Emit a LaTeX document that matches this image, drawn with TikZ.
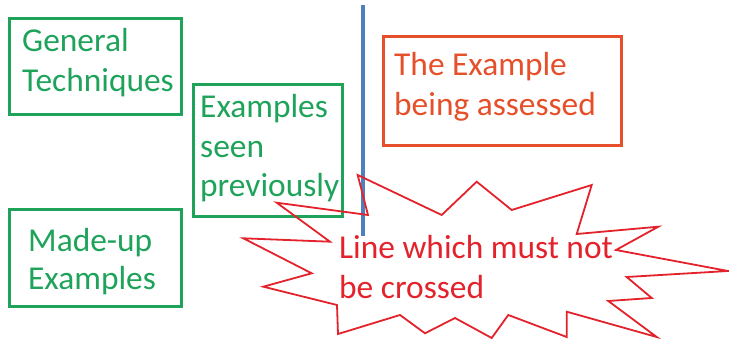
\documentclass[tikz,border=0pt]{standalone}
\usepackage{fontspec}
\setmainfont{Carlito}
\definecolor{cgreen}{HTML}{1FA35B}
\definecolor{cblue}{HTML}{4F7FBC}
\definecolor{corange}{HTML}{E5502A}
\definecolor{cred}{HTML}{E3222B}
\begin{document}
\begin{tikzpicture}[x=1pt,y=-1pt,
  box/.style={draw, line width=3pt, rectangle, inner sep=0pt, anchor=north west},
  lbl/.style={anchor=base west, inner sep=0pt, font=\fontsize{33.4}{40}\selectfont}]
\useasboundingbox (0,0) rectangle (729,344);
% boxes
\node[box, cgreen, minimum width=172pt, minimum height=96pt] (gt) at (8,17) {};
\node[box, cgreen, minimum width=149pt, minimum height=132pt] (esp) at (192,83) {};
\node[box, cgreen, minimum width=172pt, minimum height=97pt] (mue) at (8,208) {};
\node[box, corange, minimum width=238pt, minimum height=109pt] (ex) at (382,35) {};
% texts
\node[lbl, cgreen] (t1a) at (22,52) {General};
\node[lbl, cgreen] (t1b) at (22,92) {Techniques};
\node[lbl, cgreen] (t2a) at (200,118) {Examples};
\node[lbl, cgreen] (t2b) at (200,157.5) {seen};
\node[lbl, cgreen] (t2c) at (200,196.5) {previously};
\node[lbl, cgreen] (t3a) at (28,252) {Made-up};
\node[lbl, cgreen] (t3b) at (28,290) {Examples};
\node[lbl, corange] (t4a) at (394,76) {The Example};
\node[lbl, corange] (t4b) at (394,115.5) {being assessed};
% the line
\coordinate (ltop) at (363,5);
\coordinate (lbot) at (363,236);
\draw[cblue, line width=4pt] (ltop) -- (lbot);
% star
\draw[cred, line width=1.8pt, line join=miter]
  (357.7,175) -- (441.7,215) -- (476.7,181.7) -- (511.7,210) -- (591.7,185)
  -- (576.7,234) -- (658.3,226.7) -- (616,250) -- (728,271) -- (626.7,277)
  -- (651.7,298) -- (608.3,301) -- (656.7,337) -- (566.7,311.7) -- (566.7,337)
  -- (508.3,315) -- (491.7,338) -- (455,318) -- (425,333.3) -- (400,315)
  -- (338,334) -- (337,305) -- (263.3,286.7) -- (311.7,273.3) -- (243.3,238.3)
  -- (330,241.7) -- (276.7,202.7) -- (368,215) -- cycle;
\node[lbl, cred] (t5a) at (339,259) {Line which must not};
\node[lbl, cred] (t5b) at (339,298.5) {be crossed};
\end{tikzpicture}
\end{document}
